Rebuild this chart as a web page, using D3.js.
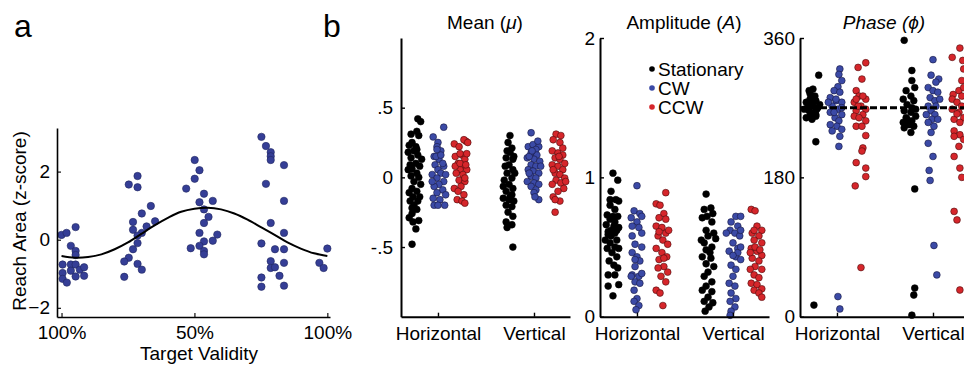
<!DOCTYPE html>
<html>
<head>
<meta charset="utf-8">
<script src="https://cdnjs.cloudflare.com/ajax/libs/d3/7.8.5/d3.min.js"></script>
<style>
  body { margin: 0; background: #fff; }
  svg { display: block; }
</style>
</head>
<body>
<svg id="chart" width="964" height="367"></svg>
<script>
// ---------- panel a data ----------
var validityTicks = [0, 0.5, 1];
var validityLabels = ["100%", "50%", "100%"];
var reachTicks = [-2, 0, 2];
// [target phase, reach area z-score]
var reachPoints = [
  [0.00, 0.14], [0.019, 0.20], [0.053, 0.37], [0.035, -0.18], [0.053, -0.33], [0.053, -0.45],
  [0.004, -0.73], [0.035, -0.73], [0.053, -0.73], [0.004, -0.98], [0.035, -0.91], [0.069, -0.88],
  [0.085, -0.81], [0.053, -1.08], [0.085, -1.06], [0.004, -1.15], [0.02, -1.26],
  [0.253, 1.62], [0.286, 1.87], [0.286, 1.54], [0.336, 0.99], [0.302, 0.77], [0.269, 0.52],
  [0.352, 0.54], [0.269, 0.29], [0.32, 0.39], [0.302, 0.20], [0.286, 0.12], [0.286, -0.10],
  [0.269, -0.28], [0.253, -0.53], [0.236, -0.64], [0.286, -0.71], [0.302, -0.88], [0.236, -1.09],
  [0.501, 2.34], [0.519, 2.04], [0.501, 1.79], [0.469, 1.50], [0.536, 1.35], [0.519, 1.10],
  [0.569, 1.14], [0.536, 0.89], [0.553, 0.67], [0.536, 0.49], [0.519, 0.20], [0.586, 0.15],
  [0.536, -0.05], [0.569, -0.03], [0.486, -0.25], [0.519, -0.18], [0.536, -0.33], [0.536, -0.43],
  [0.752, 3.02], [0.769, 2.75], [0.787, 2.57], [0.787, 2.45], [0.787, 2.34], [0.837, 2.19],
  [0.769, 1.64], [0.837, 1.14], [0.787, 0.49], [0.837, 0.20], [0.752, -0.11], [0.803, -0.28],
  [0.837, -0.28], [0.787, -0.63], [0.837, -0.68], [0.787, -0.83], [0.803, -0.81], [0.752, -1.11],
  [0.82, -1.06], [0.752, -1.38], [0.837, -1.35],
  [1.00, -0.26], [0.97, -0.68], [0.986, -0.83]
];
// fitted curve
var fitX = [0, 0.05, 0.1, 0.15, 0.2, 0.25, 0.3, 0.35, 0.4, 0.45, 0.5, 0.55, 0.6, 0.65, 0.7, 0.75, 0.8, 0.85, 0.9, 0.95, 1];
var fitY = [-0.48, -0.53, -0.51, -0.43, -0.28, -0.08, 0.17, 0.42, 0.64, 0.82, 0.91, 0.94, 0.89, 0.77, 0.59, 0.37, 0.15, -0.08, -0.26, -0.40, -0.48];

// ---------- panel b data ----------
var orientations = ["Horizontal", "Vertical"];
var conditions = ["Stationary", "CW", "CCW"];
var meanTicks = [-0.5, 0, 0.5];
var ampTicks = [0, 1, 2];
var phaseTicks = [0, 180, 360];
var phaseRef = 270;

// each point: [jitter (category units), value]
var meanHorStat = [[0.04,0.42],[0.07,0.40],[0.03,0.33],[-0.03,0.31],[0.05,0.30],[-0.02,0.25],[-0.05,0.23],[0.02,0.22],[0.03,0.20],[-0.06,0.18],[0.00,0.19],[0.04,0.16],[-0.03,0.14],[0.08,0.13],[0.02,0.10],[-0.04,0.09],[0.06,0.08],[-0.06,0.055],[-0.02,0.06],[0.03,0.03],[-0.03,0.01],[0.05,0.0],[0.00,-0.03],[0.07,-0.05],[-0.02,-0.08],[-0.05,-0.11],[0.03,-0.10],[-0.01,-0.14],[0.06,-0.14],[-0.04,-0.17],[0.04,-0.17],[0.0,-0.20],[-0.02,-0.22],[0.03,-0.23],[-0.02,-0.26],[-0.05,-0.29],[0.05,-0.31],[-0.01,-0.32],[0.02,-0.37],[-0.02,-0.48]];
var meanHorCW = [[0.06,0.36],[-0.05,0.29],[0,0.25],[-0.01,0.22],[0.03,0.19],[-0.04,0.15],[0.01,0.13],[0.06,0.08],[-0.03,0.09],[0,0.055],[0.03,0.03],[-0.06,0.02],[-0.01,-0.005],[0.06,-0.03],[0.01,-0.05],[-0.04,-0.065],[0.05,-0.09],[-0.01,-0.11],[0.08,-0.125],[-0.05,-0.15],[0.02,-0.16],[-0.04,-0.2],[0,-0.2],[0.07,-0.2],[-0.02,0.15],[0.03,0.16],[-0.06,-0.03],[0.08,0.02],[-0.01,0.2],[0.05,0.1]];
var meanHorCCW = [[0.04,0.26],[-0.08,0.24],[-0.03,0.22],[0.02,0.27],[0.06,0.25],[-0.07,0.15],[0,0.16],[0.03,0.13],[-0.04,0.10],[0.02,0.08],[-0.02,0.055],[0.05,0.055],[-0.06,0.03],[0.01,0.02],[-0.03,-0.02],[0.03,-0.03],[-0.08,-0.08],[-0.01,-0.065],[-0.04,-0.10],[0.02,-0.125],[-0.05,-0.16],[0,-0.17],[0.03,-0.185],[-0.02,0.17],[0.05,0.17],[-0.07,0.08],[0.03,-0.005],[-0.02,0.1],[0.04,0.09]];
var meanVerStat = [[0,0.30],[-0.02,0.25],[0.02,0.21],[0,0.18],[-0.04,0.14],[0.03,0.13],[-0.01,0.09],[-0.05,0.08],[0.03,0.055],[-0.03,0.03],[0.02,-0.005],[-0.06,-0.02],[-0.01,-0.05],[0.03,-0.08],[-0.04,-0.10],[0.02,-0.125],[-0.07,-0.15],[-0.01,-0.16],[0.04,-0.17],[-0.04,-0.2],[0.02,-0.21],[-0.02,-0.25],[0.03,-0.28],[-0.04,-0.32],[0.02,-0.34],[-0.03,-0.36],[0.03,-0.5],[0.04,0.15],[-0.03,0.19],[0.05,0.03],[-0.07,-0.065],[0,-0.14]];
var meanVerCW = [[-0.03,0.32],[-0.06,0.22],[-0.01,0.235],[0.05,0.22],[0.02,0.2],[-0.03,0.175],[0.03,0.16],[-0.07,0.14],[0,0.13],[0.06,0.115],[-0.03,0.09],[0.02,0.08],[-0.06,0.055],[-0.01,0.045],[0.05,0.03],[-0.03,0.007],[0.02,-0.005],[-0.07,-0.03],[0,-0.04],[0.05,-0.05],[-0.03,-0.065],[0.02,-0.09],[0,-0.11],[0.05,-0.16],[0.01,-0.14],[-0.05,0.15],[0.07,0.08],[-0.02,0.19],[0.04,0.26],[-0.05,0.03]];
var meanVerCCW = [[-0.02,0.31],[0.03,0.30],[-0.05,0.27],[0.02,0.25],[-0.06,0.19],[0,0.175],[0.05,0.16],[-0.03,0.14],[0.02,0.13],[0.07,0.10],[-0.06,0.09],[0,0.08],[0.05,0.055],[-0.03,0.03],[0.02,0.02],[0.07,-0.005],[-0.02,-0.02],[0.03,-0.04],[-0.06,-0.05],[0.06,-0.08],[0,-0.10],[-0.05,-0.14],[0.02,-0.17],[-0.03,-0.16],[-0.03,-0.25],[0.01,0.15],[0.05,0.21],[-0.05,0.055],[0.08,-0.03]];

var ampHorStat = [[0,1.03],[0.05,0.98],[-0.02,0.90],[0.03,0.84],[0.06,0.83],[-0.03,0.80],[0.02,0.77],[-0.06,0.73],[0.05,0.72],[-0.03,0.70],[0.02,0.68],[-0.07,0.66],[0.01,0.65],[0.06,0.64],[-0.05,0.61],[0.02,0.60],[-0.02,0.58],[-0.08,0.55],[0.04,0.55],[-0.03,0.53],[0.02,0.50],[-0.06,0.49],[0.06,0.49],[-0.01,0.46],[0.04,0.43],[-0.04,0.40],[0.01,0.37],[0.05,0.35],[-0.05,0.30],[0.02,0.30],[0.06,0.23],[-0.05,0.22],[0,0.15],[-0.02,0.62],[-0.05,0.59],[0.04,0.62],[0,0.72],[-0.03,0.84]];
var ampHorCW = [[0,0.94],[-0.03,0.76],[0.03,0.74],[-0.06,0.71],[0,0.68],[0.05,0.72],[-0.05,0.65],[0.02,0.64],[-0.05,0.58],[-0.02,0.52],[0.05,0.50],[-0.05,0.46],[0,0.43],[0.03,0.40],[-0.02,0.36],[-0.05,0.30],[0.02,0.29],[0.05,0.31],[-0.02,0.25],[0.03,0.24],[-0.03,0.19],[0,0.13],[-0.03,0.11],[0.02,0.08],[-0.01,0.05],[-0.06,0.29],[0.05,0.6],[-0.02,0.41]];
var ampHorCCW = [[0.05,0.89],[-0.05,0.81],[-0.01,0.80],[0.03,0.74],[-0.02,0.71],[0.05,0.70],[-0.05,0.65],[0.01,0.64],[0.05,0.60],[-0.03,0.58],[0.02,0.55],[0.07,0.52],[-0.05,0.49],[0.01,0.46],[0.06,0.43],[-0.02,0.41],[0.03,0.36],[-0.03,0.35],[0.07,0.32],[0,0.29],[0.05,0.25],[-0.05,0.19],[-0.01,0.17],[0.02,0.08],[0.08,0.62],[-0.02,0.61],[0.03,0.42]];
var ampVerStat = [[-0.03,0.88],[0.02,0.78],[-0.05,0.77],[0.04,0.74],[-0.02,0.72],[-0.07,0.71],[0.03,0.68],[-0.03,0.62],[0.05,0.60],[-0.01,0.58],[-0.05,0.53],[0.03,0.50],[-0.03,0.48],[-0.07,0.43],[0.02,0.42],[-0.03,0.38],[0.05,0.36],[-0.01,0.32],[-0.05,0.29],[0.03,0.25],[-0.03,0.22],[-0.07,0.19],[0.03,0.18],[-0.01,0.14],[-0.05,0.11],[0.04,0.10],[0,0.07],[-0.04,0.04],[0.07,0.56],[-0.08,0.55],[0.01,0.46]];
var ampVerCW = [[0.03,0.72],[0.08,0.72],[-0.02,0.68],[0.05,0.65],[-0.03,0.62],[0.02,0.60],[0.07,0.58],[0,0.53],[0.05,0.49],[-0.04,0.47],[0.03,0.43],[0.08,0.41],[-0.02,0.37],[0.03,0.34],[0,0.29],[-0.04,0.24],[0.02,0.22],[-0.02,0.17],[0.03,0.13],[-0.03,0.11],[0.02,0.07],[-0.02,0.04],[-0.03,0.01],[0.08,0.62],[-0.07,0.60],[0.05,0.46],[0,0.44],[0.08,0.50]];
var ampVerCCW = [[-0.06,0.77],[-0.02,0.76],[0,0.65],[0.05,0.62],[-0.05,0.60],[0.02,0.58],[-0.03,0.55],[0.05,0.53],[-0.06,0.49],[0,0.47],[0.05,0.44],[-0.05,0.42],[0.02,0.40],[-0.02,0.36],[-0.07,0.34],[0.05,0.34],[-0.03,0.30],[0.02,0.28],[-0.06,0.24],[0,0.23],[0.05,0.20],[-0.03,0.19],[0.02,0.17],[0.05,0.14],[-0.02,0.50],[0.03,0.48],[-0.07,0.46],[-0.03,0.62]];

var phaseHorStat = [[0.06,312],[0,294],[-0.04,292],[0.02,285],[-0.03,281],[0.03,279],[-0.07,277],[0,272],[0.05,270],[-0.04,266],[0.02,264],[-0.03,259],[-0.07,257],[0.03,259],[-0.01,255],[0.03,261],[-0.05,272],[-0.02,277],[-0.09,268],[0.07,274],[0.01,281],[0.03,226],[0.01,15],[-0.03,288],[0.04,268]];
var phaseHorCW = [[0.03,320],[0.02,313],[0.05,305],[0.01,297],[-0.03,292],[0.03,290],[-0.07,283],[-0.01,279],[0.05,277],[-0.05,272],[0.01,268],[-0.07,264],[0.05,261],[-0.02,257],[0.02,253],[-0.07,248],[0,246],[0.05,242],[-0.05,240],[0.03,233],[0.02,220],[0.01,26],[0.03,10],[-0.01,281],[-0.09,277],[-0.03,264],[0.05,270]];
var phaseHorCCW = [[0.05,328],[-0.03,322],[0.01,307],[-0.05,292],[-0.02,285],[0.05,281],[-0.07,277],[0,272],[0.05,268],[-0.05,266],[0.02,261],[-0.07,259],[-0.02,257],[0.05,253],[-0.05,246],[0.01,246],[0.05,234],[0.02,218],[0.01,214],[-0.05,199],[0.05,192],[0.05,181],[-0.06,169],[0,63.5],[-0.03,272],[0.02,285],[-0.05,281]];
var phaseVerStat = [[-0.05,357],[0.03,318],[0.03,305],[0.06,296],[-0.03,292],[0.02,285],[-0.06,281],[0.05,279],[-0.02,274],[0.03,270],[-0.05,266],[0.02,264],[0.07,259],[-0.03,257],[0.03,253],[-0.06,251],[0,248],[0.05,246],[-0.05,244],[0.02,238],[0.06,165],[0.06,37],[0.05,28],[0.03,2],[-0.02,255],[0.07,268]];
var phaseVerCW = [[0,332],[-0.02,312],[0.06,307],[0.03,303],[-0.05,296],[0,292],[0.05,290],[-0.03,283],[0.02,279],[-0.05,272],[0.03,272],[-0.02,266],[-0.07,261],[0.02,261],[-0.01,255],[0.05,255],[-0.05,251],[0.01,246],[-0.02,238],[-0.05,224],[0,207],[-0.04,189],[-0.03,176],[0.01,92],[0.04,54],[0.07,281]];
var phaseVerCCW = [[-0.05,335],[0.03,347],[0.06,331],[0.05,305],[-0.04,287],[0.02,292],[0.07,296],[-0.05,281],[0,277],[0.05,272],[-0.05,268],[0.02,264],[0.07,257],[-0.03,255],[0.03,251],[-0.03,240],[0.03,235],[-0.03,233],[0.07,229],[0.02,220],[-0.03,207],[0.03,192],[0.05,180],[-0.03,136],[0,125],[0.03,34.5],[0,262],[0.05,285],[0.07,320]];

var meanData = [[meanHorStat, meanHorCW, meanHorCCW], [meanVerStat, meanVerCW, meanVerCCW]];
var ampData = [[ampHorStat, ampHorCW, ampHorCCW], [ampVerStat, ampVerCW, ampVerCCW]];
var phaseData = [[phaseHorStat, phaseHorCW, phaseHorCCW], [phaseVerStat, phaseVerCW, phaseVerCCW]];

// ---------- drawing ----------
var FONT = '"Liberation Sans", Arial, Helvetica, sans-serif';
var FS = 19;
var fills = ["#000000", "#3b4aa6", "#d6262b"];
var strokes = ["#000000", "#17183f", "#4a0c0c"];
var condOffset = [-0.25, 0, 0.25];

var svg = d3.select('#chart');
svg.append('rect').attr('width', 964).attr('height', 367).attr('fill', '#fff');

function styleAxis(g, w) {
  g.attr('font-size', FS).attr('font-family', FONT);
  g.select('.domain').attr('stroke', '#000').attr('stroke-width', w);
  g.selectAll('.tick line').attr('stroke', '#000').attr('stroke-width', w * 0.7);
  g.selectAll('.tick text').attr('fill', '#000');
}

// panel letters
svg.append('text').attr('x', 14).attr('y', 37).text('a')
  .attr('font-family', FONT).attr('font-size', 32);
svg.append('text').attr('x', 323).attr('y', 37).text('b')
  .attr('font-family', FONT).attr('font-size', 32);

// ---------- panel a ----------
var xA = d3.scaleLinear().domain([-0.017, 1.01]).range([57, 330]);
var yA = d3.scaleLinear().domain([-2.27, 3.28]).range([317, 128]);

var gA = svg.append('g');
gA.selectAll('circle').data(reachPoints).enter().append('circle')
  .attr('cx', function (d) { return xA(d[0]); })
  .attr('cy', function (d) { return yA(d[1]); })
  .attr('r', 3.7)
  .attr('fill', '#353e96')
  .attr('stroke', '#20265f')
  .attr('stroke-width', 0.6);

var fitLine = d3.line()
  .x(function (d, i) { return xA(fitX[i]); })
  .y(function (d) { return yA(d); })
  .curve(d3.curveCatmullRom);
gA.append('path').datum(fitY).attr('d', fitLine)
  .attr('fill', 'none').attr('stroke', '#000').attr('stroke-width', 2);

var axA_x = gA.append('g').attr('transform', 'translate(0,317)')
  .call(d3.axisBottom(xA).tickValues(validityTicks)
    .tickFormat(function (d, i) { return validityLabels[i]; })
    .tickSizeInner(-4).tickSizeOuter(0).tickPadding(9));
styleAxis(axA_x, 1.6);
var axA_y = gA.append('g').attr('transform', 'translate(57,0)')
  .call(d3.axisLeft(yA).tickValues(reachTicks).tickFormat(d3.format('d'))
    .tickSizeInner(-4).tickSizeOuter(0).tickPadding(7));
styleAxis(axA_y, 1.6);

gA.append('text').attr('transform', 'translate(26,221) rotate(-90)')
  .attr('text-anchor', 'middle').attr('font-family', FONT).attr('font-size', FS)
  .text('Reach Area (z-score)');
gA.append('text').attr('x', 199).attr('y', 360)
  .attr('text-anchor', 'middle').attr('font-family', FONT).attr('font-size', FS)
  .text('Target Validity');

// ---------- panel b ----------
var panelTop = 38, panelBottom = 316.7, panelW = 169;

function drawPanel(left, domain, ticks, fmt, data, pad) {
  var x = d3.scaleLinear().domain([0.615, 2.375]).range([left, left + panelW]);
  var y = d3.scaleLinear().domain(domain).range([panelBottom, panelTop]);
  var g = svg.append('g');
  data.forEach(function (grp, gi) {
    grp.forEach(function (pts, ci) {
      g.append('g').selectAll('circle').data(pts).enter().append('circle')
        .attr('cx', function (d) { return x(gi + 1 + condOffset[ci] + d[0]); })
        .attr('cy', function (d) { return y(d[1]); })
        .attr('r', 3.4)
        .attr('fill', fills[ci])
        .attr('stroke', strokes[ci])
        .attr('stroke-width', 0.6);
    });
  });
  var ax = g.append('g').attr('transform', 'translate(0,' + panelBottom + ')')
    .call(d3.axisBottom(x).tickValues([1, 2])
      .tickFormat(function (d) { return orientations[d - 1]; })
      .tickSizeInner(-4).tickSizeOuter(0).tickPadding(10));
  styleAxis(ax, 2);
  var ay = g.append('g').attr('transform', 'translate(' + left + ',0)')
    .call(d3.axisLeft(y).tickValues(ticks).tickFormat(fmt)
      .tickSizeInner(-4).tickSizeOuter(0).tickPadding(pad));
  styleAxis(ay, 2);
  return { g: g, x: x, y: y };
}

var meanFmt = function (d) { return d === 0 ? '0' : String(d).replace('0.', '.'); };
var pMean = drawPanel(401, [-1, 1], meanTicks, meanFmt, meanData, 8);
var pAmp = drawPanel(600, [0, 2], ampTicks, d3.format('d'), ampData, 5);
var pPhase = drawPanel(800, [0, 360], phaseTicks, d3.format('d'), phaseData, 5);

// reference phase line
pPhase.g.append('line')
  .attr('x1', 800).attr('x2', 970)
  .attr('y1', pPhase.y(phaseRef)).attr('y2', pPhase.y(phaseRef))
  .attr('stroke', '#000').attr('stroke-width', 3).attr('stroke-dasharray', '7,3');

// titles
function title(x, parts) {
  var t = svg.append('text').attr('x', x).attr('y', 29).attr('text-anchor', 'middle')
    .attr('font-family', FONT).attr('font-size', FS);
  parts.forEach(function (p) {
    t.append('tspan').text(p[0]).attr('font-style', p[1] ? 'italic' : 'normal');
  });
}
title(401 + 84, [['Mean (', false], ['\u03bc', true], [')', false]]);
title(600 + 84, [['Amplitude (', false], ['A', true], [')', false]]);
title(800 + 84, [['Phase (\u03d5)', true]]);

// legend
var leg = svg.append('g');
conditions.forEach(function (c, i) {
  leg.append('circle').attr('cx', 652).attr('cy', 69 + i * 19).attr('r', 2.8)
    .attr('fill', fills[i]);
  leg.append('text').attr('x', 658).attr('y', 75.5 + i * 19)
    .attr('font-family', FONT).attr('font-size', FS).text(c);
});
</script>
</body>
</html>
